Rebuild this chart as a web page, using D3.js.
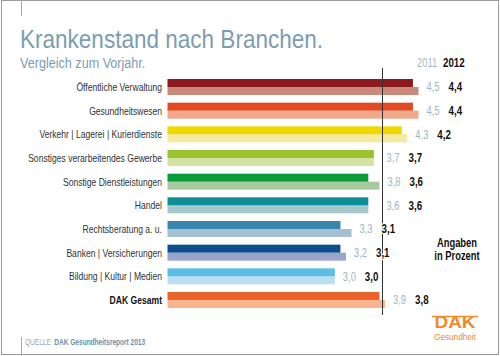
<!DOCTYPE html>
<html><head><meta charset="utf-8">
<script src="https://cdn.jsdelivr.net/npm/d3@7"></script>
<style>
body{margin:0;background:#fff;}
svg{display:block;}
</style></head>
<body>
<svg id="c" width="500" height="356"></svg>
<script>
const categories = ["Öffentliche Verwaltung","Gesundheitswesen","Verkehr | Lagerei | Kurierdienste","Sonstiges verarbeitendes Gewerbe","Sonstige Dienstleistungen","Handel","Rechtsberatung a. u.","Banken | Versicherungen","Bildung | Kultur | Medien","DAK Gesamt"];
const values2012 = [4.4,4.4,4.2,3.7,3.6,3.6,3.1,3.1,3.0,3.8];
const values2011 = [4.5,4.5,4.3,3.7,3.8,3.6,3.3,3.2,3.0,3.9];
const colors2012 = ["#8c1a1f","#e04b26","#eed800","#9ac22c","#0c9a3a","#0e8f97","#3a86ab","#0d4f8c","#5cbde6","#e9632a"];
const colors2011 = ["#c98a79","#f0a88a","#f6eaa0","#d3e3a1","#a8caa1","#a7c8ca","#a6c0d3","#9ba4cd","#badff2","#f6b48f"];
const years = ["2011","2012"];

const font = "'Liberation Sans',Arial,sans-serif";
const svg = d3.select("#c");

// compress text horizontally to mimic a condensed typeface
function condense(sel, k){
  sel.each(function(){
    const w = this.getComputedTextLength();
    d3.select(this).attr("textLength", w*k).attr("lengthAdjust","spacingAndGlyphs");
  });
  return sel;
}

// frame
svg.append("rect").attr("x",1.5).attr("y",0.5).attr("width",497).attr("height",354)
  .attr("fill","#fff").attr("stroke","#9a9a9a").attr("stroke-width",1);
svg.append("line").attr("x1",21.5).attr("x2",21.5).attr("y1",0).attr("y2",16).attr("stroke","#f39a3a").attr("stroke-width",1);
svg.append("line").attr("x1",21.5).attr("x2",21.5).attr("y1",337).attr("y2",356).attr("stroke","#f39a3a").attr("stroke-width",1);

// titles
condense(svg.append("text").attr("x",20).attr("y",47.5).attr("font-family",font).attr("font-size",26.5)
  .attr("fill","#7b9db1").text("Krankenstand nach Branchen."), 0.85);
condense(svg.append("text").attr("x",20).attr("y",68).attr("font-family",font).attr("font-size",14)
  .attr("fill","#7b9db1").text("Vergleich zum Vorjahr."), 0.9);

const x = d3.scaleLinear().domain([0,4.5]).range([167.5,418.5]);
const y = d3.scaleBand().domain(categories).range([79,308]).paddingInner(0.324).paddingOuter(0);
const bh = y.bandwidth();
const h12 = bh*0.5, h11 = bh*0.5;

const rows = svg.append("g").selectAll("g").data(categories).join("g")
  .attr("transform", d => `translate(0,${y(d)})`);

rows.append("rect").attr("x",x(0)).attr("y",h12).attr("height",h11)
  .attr("width",(d,i)=>x(values2011[i])-x(0)).attr("fill",(d,i)=>colors2011[i]);
rows.append("rect").attr("x",x(0)).attr("y",0).attr("height",h12)
  .attr("width",(d,i)=>x(values2012[i])-x(0)).attr("fill",(d,i)=>colors2012[i]);

condense(rows.append("text").attr("x",162).attr("y",bh/2).attr("dy","0.35em").attr("text-anchor","end")
  .attr("font-family",font).attr("font-size",11.5)
  .attr("font-weight",(d,i)=>i===categories.length-1?"bold":"normal")
  .attr("fill",(d,i)=>i===categories.length-1?"#111":"#333").text(d=>d), 0.745);

// reference line (DAK Gesamt)
const dakIdx = categories.length-1;
const refVal = d3.mean([values2011[dakIdx],values2012[dakIdx]]);
const lineX = Math.round(x(refVal))+0.5;
svg.append("line").attr("x1",lineX).attr("x2",lineX)
  .attr("y1",68).attr("y2",315).attr("stroke","#333").attr("stroke-width",1);

const fmt = v => d3.format(".1f")(v).replace(".",",");
function labelX(i){
  let lx = x(Math.max(values2011[i],values2012[i]))+8;
  if (lx > lineX-13 && lx < lineX+4) lx = lineX+4;
  return lx;
}
const labels = svg.append("g").selectAll("g").data(categories).join("g")
  .attr("transform", d => `translate(0,${y(d)+bh/2})`);
condense(labels.append("text").attr("x",(d,i)=>labelX(i)).attr("dy","0.35em")
  .attr("font-family",font).attr("font-size",12).attr("fill","#a3b6c4")
  .text((d,i)=>fmt(values2011[i])), 0.78);
condense(labels.append("text").attr("x",(d,i)=>labelX(i)+22).attr("dy","0.35em")
  .attr("font-family",font).attr("font-size",12.5).attr("font-weight","bold").attr("fill","#111")
  .attr("stroke","#fff").attr("stroke-width",2.5).attr("paint-order","stroke")
  .text((d,i)=>fmt(values2012[i])), 0.78);

// legend
condense(svg.append("text").attr("x",417).attr("y",63).attr("dy","0.35em").attr("font-family",font).attr("font-size",12)
  .attr("fill","#a3b6c4").text(years[0]), 0.78);
condense(svg.append("text").attr("x",443).attr("y",63).attr("dy","0.35em").attr("font-family",font).attr("font-size",12.5)
  .attr("font-weight","bold").attr("fill","#111").text(years[1]), 0.78);

condense(svg.append("text").attr("x",457).attr("y",243).attr("dy","0.35em").attr("text-anchor","middle")
  .attr("font-family",font).attr("font-size",12).attr("font-weight","bold").attr("fill","#111").text("Angaben"), 0.78);
condense(svg.append("text").attr("x",457).attr("y",255.5).attr("dy","0.35em").attr("text-anchor","middle")
  .attr("font-family",font).attr("font-size",12).attr("font-weight","bold").attr("fill","#111").text("in Prozent"), 0.78);

// source (condensed through a horizontal scale)
const srcK = 0.77;
const srcG = svg.append("g").attr("transform",`translate(25,342) scale(${srcK},1)`);
const q = srcG.append("text").attr("x",0).attr("dy","0.35em").attr("font-family",font)
  .attr("font-size",8.5).attr("fill","#93acbd").text("QUELLE");
const qw = q.node().getComputedTextLength();
srcG.append("text").attr("x",qw+3.5/srcK).attr("dy","0.35em").attr("font-family",font)
  .attr("font-size",8.5).attr("font-weight","bold").attr("fill","#6f8fa4").text("DAK Gesundheitsreport 2013");

// logo
condense(svg.append("text").attr("x",455).attr("y",328).attr("text-anchor","middle").attr("font-family",font)
  .attr("font-size",16.5).attr("font-weight","bold").attr("fill","#f28a28").text("DAK"), 1.15);
svg.append("line").attr("x1",432).attr("x2",478).attr("y1",316.5).attr("y2",316.5).attr("stroke","#f28a28").attr("stroke-width",1.5);
condense(svg.append("text").attr("x",455).attr("y",340).attr("text-anchor","middle").attr("font-family",font)
  .attr("font-size",9.5).attr("fill","#f28a28").text("Gesundheit"), 0.86);
</script>
</body></html>
